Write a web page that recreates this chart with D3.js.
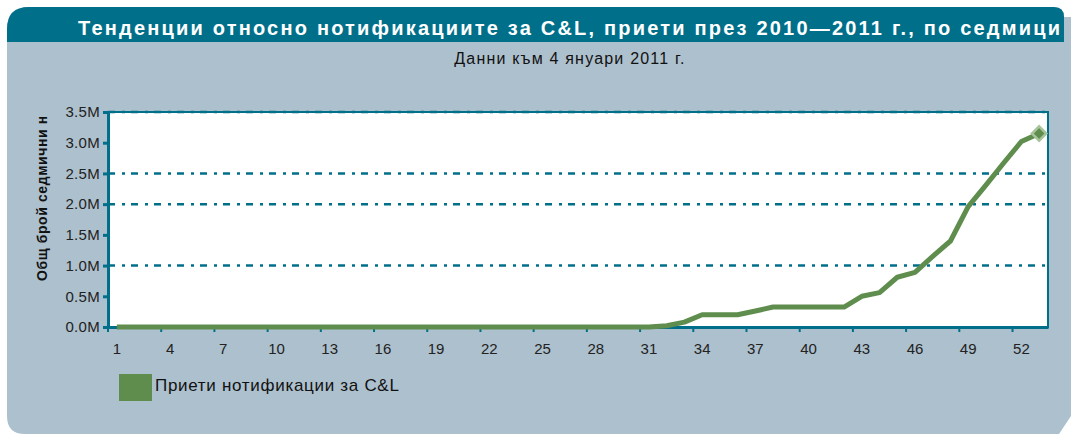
<!DOCTYPE html>
<html><head><meta charset="utf-8">
<script src="https://cdn.jsdelivr.net/npm/d3@7"></script>
<style>
html,body{margin:0;padding:0;background:#fff;}
svg{display:block;font-family:"Liberation Sans",Arial,sans-serif;}
</style></head>
<body>
<svg id="c" width="1071" height="434"></svg>
<script>
const titleText = "Тенденции относно нотификациите за C&L, приети през 2010—2011 г., по седмици";
const subtitleText = "Данни към 4 януари 2011 г.";
const yAxisTitle = "Общ брой седмични нотификации";
const seriesName = "Приети нотификации за C&L";
const weeks = d3.range(1, 54);
const values = [
  0,0,0,0,0,0,0,0,0,0,
  0,0,0,0,0,0,0,0,0,0,
  0,0,0,0,0,0,0,0,0,0,
  0,0.02,0.08,0.2,0.2,0.2,0.26,0.325,0.325,0.325,
  0.325,0.325,0.5,0.56,0.81,0.89,1.15,1.4,1.96,2.31,
  2.67,3.02,3.15
];
const xTickWeeks = [1,4,7,10,13,16,19,22,25,28,31,34,37,40,43,46,49,52];
const yTicks = [0,0.5,1.0,1.5,2.0,2.5,3.0,3.5];
const gridTicks = [1.0,2.0,2.5,3.5];

const teal = "#006f8a", green = "#5f8d4e", bg = "#adc0cd";
const svg = d3.select("#c");
const defs = svg.append("defs");

// panel
const panel = d3.path();
const L=7,T=7,R=1064,B=434,r1=22,r2=10;
panel.moveTo(L, T+r1);
panel.quadraticCurveTo(L, T, L+r1, T);
panel.lineTo(R-10, T);
panel.quadraticCurveTo(R, T, R, T+10);
panel.lineTo(1071, T+10);
panel.lineTo(1071, B-r2-8);
panel.lineTo(1071-12, B);
panel.lineTo(L+r2+8, B);
panel.quadraticCurveTo(L, B, L, B-r2-8);
panel.closePath();
svg.append("path").attr("d", panel.toString()).attr("fill", bg);

// title bar
const tb = d3.path();
tb.moveTo(L, 42);
tb.lineTo(L, T+r1);
tb.quadraticCurveTo(L, T, L+r1, T);
tb.lineTo(R-10, T);
tb.quadraticCurveTo(R, T, R, T+10);
tb.lineTo(R, 42);
tb.closePath();
svg.append("path").attr("d", tb.toString()).attr("fill", teal);
svg.append("text")
  .attr("x", 78).attr("y", 34.5).attr("fill","#fff")
  .attr("font-size", 20).attr("font-weight","bold").attr("letter-spacing", 2.2)
  .text(titleText);
svg.append("text").attr("x", 570).attr("y", 64).attr("text-anchor","middle")
  .attr("font-size", 16).attr("letter-spacing", 1.2).attr("fill","#111").text(subtitleText);

// plot area
const x0 = 108, x1 = 1048, y0 = 327, y1 = 112;
const x = d3.scaleBand().domain(weeks).range([x0, x1]).paddingInner(0).paddingOuter(0);
const y = d3.scaleLinear().domain([0, 3.5]).range([y0, y1]);
const cx = w => x(w) + x.bandwidth()/2;

svg.append("rect").attr("x", x0).attr("y", y1).attr("width", x1-x0).attr("height", y0-y1)
  .attr("fill","#fff").attr("stroke", teal).attr("stroke-width", 2);

// grid
svg.append("g").selectAll("line").data(gridTicks).join("line")
  .attr("x1", x0).attr("x2", x1).attr("y1", d=>y(d)).attr("y2", d=>y(d))
  .attr("stroke", teal).attr("stroke-width", 2.5).attr("stroke-dasharray","7,7,3,6");

// y axis
const yAxis = d3.axisLeft(y).tickValues(yTicks).tickFormat(d => d3.format(".1f")(d) + "M").tickSize(5).tickPadding(3);
const ga = svg.append("g").attr("transform", `translate(${x0},0)`).call(yAxis);
ga.select(".domain").attr("stroke", teal).attr("stroke-width", 3);
ga.selectAll(".tick line").attr("stroke", teal).attr("stroke-width", 3);
ga.selectAll(".tick text").attr("font-size", 15).attr("letter-spacing", 0.3).attr("fill","#222")
  .attr("font-family","Liberation Sans, Arial, sans-serif");

// x axis
const xAxis = d3.axisBottom(x).tickValues(xTickWeeks).tickSize(0).tickPadding(12);
const gx = svg.append("g").attr("transform", `translate(0,${y0})`).call(xAxis);
gx.select(".domain").attr("stroke", teal).attr("stroke-width", 3);
gx.selectAll(".tick text").attr("font-size", 15).attr("fill","#222").attr("dy","1.0em")
  .attr("font-family","Liberation Sans, Arial, sans-serif");
svg.append("g").selectAll("line").data(xTickWeeks).join("line")
  .attr("x1", d=>x(d)).attr("x2", d=>x(d)).attr("y1", y0).attr("y2", y0+5)
  .attr("stroke", teal).attr("stroke-width", 2);

// y axis title (clipped like the original)
defs.append("clipPath").attr("id","yclip")
  .append("rect").attr("x",20).attr("y",117).attr("width",40).attr("height",200);
svg.append("g").attr("clip-path","url(#yclip)").append("text")
  .attr("transform","translate(47,281) rotate(-90)")
  .attr("font-size", 14).attr("font-weight","bold").attr("letter-spacing", 0.6).attr("fill","#111")
  .text(yAxisTitle);

// line
const line = d3.line().x((d,i)=>cx(weeks[i])).y(d=>y(d));
svg.append("path").datum(values).attr("d", line)
  .attr("fill","none").attr("stroke", green).attr("stroke-width", 5)
  .attr("stroke-linejoin","round");

// last point marker
const lastW = weeks[weeks.length-1], lastV = values[values.length-1];
svg.append("path").attr("d", d3.symbol(d3.symbolDiamond2, 130)())
  .attr("transform", `translate(${cx(lastW)},${y(lastV)})`)
  .attr("fill", green).attr("stroke", "#a7c49a").attr("stroke-width", 2.5);

// legend
svg.append("rect").attr("x",119).attr("y",374).attr("width",33).attr("height",27).attr("fill", green);
svg.append("text").attr("x",155).attr("y",391).attr("font-size",17).attr("letter-spacing",0.7).attr("fill","#111").text(seriesName);
</script>
</body></html>
